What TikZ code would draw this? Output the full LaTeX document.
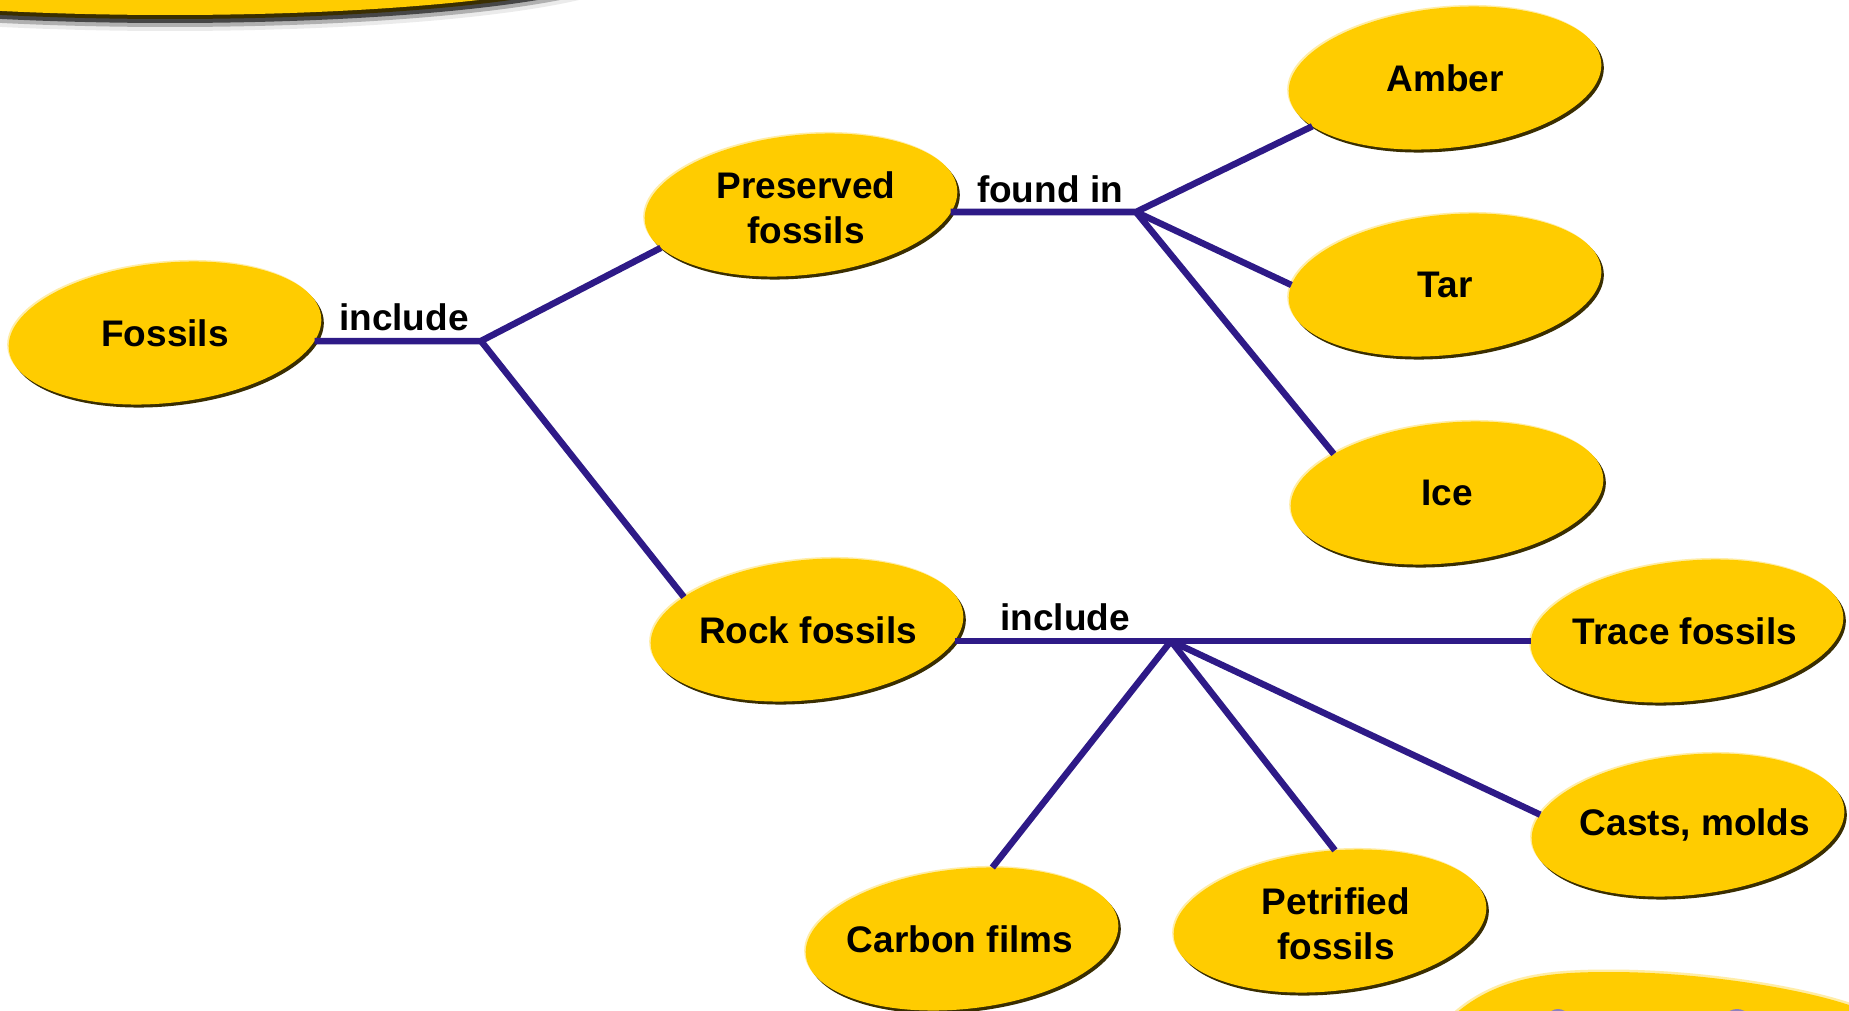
\documentclass[tikz,border=0pt]{standalone}
\usepackage{fontspec}
\setmainfont{Liberation Sans}
\usetikzlibrary{shapes.geometric,shadows,calc}
\definecolor{gold}{HTML}{FFCC00}
\definecolor{linecol}{HTML}{2E1A87}
\definecolor{bevel}{HTML}{3A2E00}
\begin{document}
\begin{tikzpicture}[x=1pt,y=-1pt,
  blob/.style={ellipse, minimum width=314pt, minimum height=140pt, inner sep=0pt, outer sep=0pt,
    fill=gold, rotate=6,
    general shadow={fill=gold!35!white, shadow xshift=-1.5pt, shadow yshift=1.5pt},
    general shadow={fill=bevel, shadow xshift=2.5pt, shadow yshift=-3pt}},
  txt/.style={font=\fontsize{37}{45}\selectfont\bfseries, align=center, inner sep=0pt, text=black},
  lbl/.style={font=\fontsize{37}{45}\selectfont\bfseries, inner sep=0pt, text=black},
  conn/.style={draw=linecol, line width=6.5pt, line join=miter}]
\useasboundingbox (0,0) rectangle (1849,1011);
\fill[white] (0,0) rectangle (1849,1011);

% partial shapes cut by the border
\begin{scope}
\clip (0,0) rectangle (1849,1011);
% top-left
\fill[black, opacity=0.08] (170,-29) ellipse [x radius=467, y radius=60];
\fill[black, opacity=0.25] (170,-33) ellipse [x radius=467, y radius=60];
\fill[black, opacity=0.60] (170,-37) ellipse [x radius=467, y radius=60];
\fill[bevel] (170,-41) ellipse [x radius=467, y radius=60];
\fill[gold] (170,-45) ellipse [x radius=467, y radius=60];
% bottom-right
\draw[gold!35!white, line width=5pt] (1455,1014) .. controls (1500,975) and (1555,972) .. (1610,972)
   .. controls (1700,972) and (1800,988) .. (1852,1006);
\fill[gold] (1455,1014) .. controls (1500,975) and (1555,972) .. (1610,972)
   .. controls (1700,972) and (1800,988) .. (1852,1006) -- (1852,1014) -- cycle;
\fill[linecol!55!white] (1558,1031) ellipse [x radius=16, y radius=22];
\fill[linecol!55!white] (1737,1031) ellipse [x radius=18, y radius=22];
\end{scope}

% ellipses
\node[blob] (fossils) at (165,333) {};
\node[blob] (pres) at (801,205) {};
\node[blob] (rock) at (807,630) {};
\node[blob] (amber) at (1445,78) {};
\node[blob] (tar) at (1445,285) {};
\node[blob] (ice) at (1447,493) {};
\node[blob] (trace) at (1687,631) {};
\node[blob] (casts) at (1688,825) {};
\node[blob] (carbon) at (962,939) {};
\node[blob] (petri) at (1330,921) {};

\node[txt] (fossilsT) at (fossils) {Fossils};
\node[txt] (presT) at (806,208) {Preserved\\fossils};
\node[txt] (rockT) at (808,630) {Rock fossils};
\node[txt] (amberT) at (amber) {Amber};
\node[txt] (tarT) at (tar) {Tar};
\node[txt] (iceT) at (ice) {Ice};
\node[txt] (traceT) at (1685,631) {Trace fossils};
\node[txt] (castsT) at (1695,825) {Casts, molds};
\node[txt] (carbonT) at (960,939) {Carbon films};
\node[txt] (petriT) at (1336,924) {Petrified\\fossils};

% junctions
\coordinate (j1) at (481,341);
\coordinate (j2) at (1136,212);
\coordinate (j3) at (1171,641);

% connectors
\draw[conn] (fossils.351 |- j1) -- (j1) -- (pres.191);
\draw[conn] (j1) -- (rock.159);
\draw[conn] (pres.351 |- j2) -- (j2) -- (amber.194);
\draw[conn] (j2) -- (tar.174);
\draw[conn] (j2) -- (ice.155);
\draw[conn] (rock.350 |- j3) -- (j3) -- (trace.177.7 |- j3);
\draw[conn] (j3) -- (casts.170.5);
\draw[conn] (j3) -- (petri.80);
\draw[conn] (j3) -- (carbon.61);

% labels
\node[lbl] (inc1) at (404,317) {include};
\node[lbl] (found) at (1050,189) {found in};
\node[lbl] (inc2) at (1065,617) {include};
\end{tikzpicture}
\end{document}
